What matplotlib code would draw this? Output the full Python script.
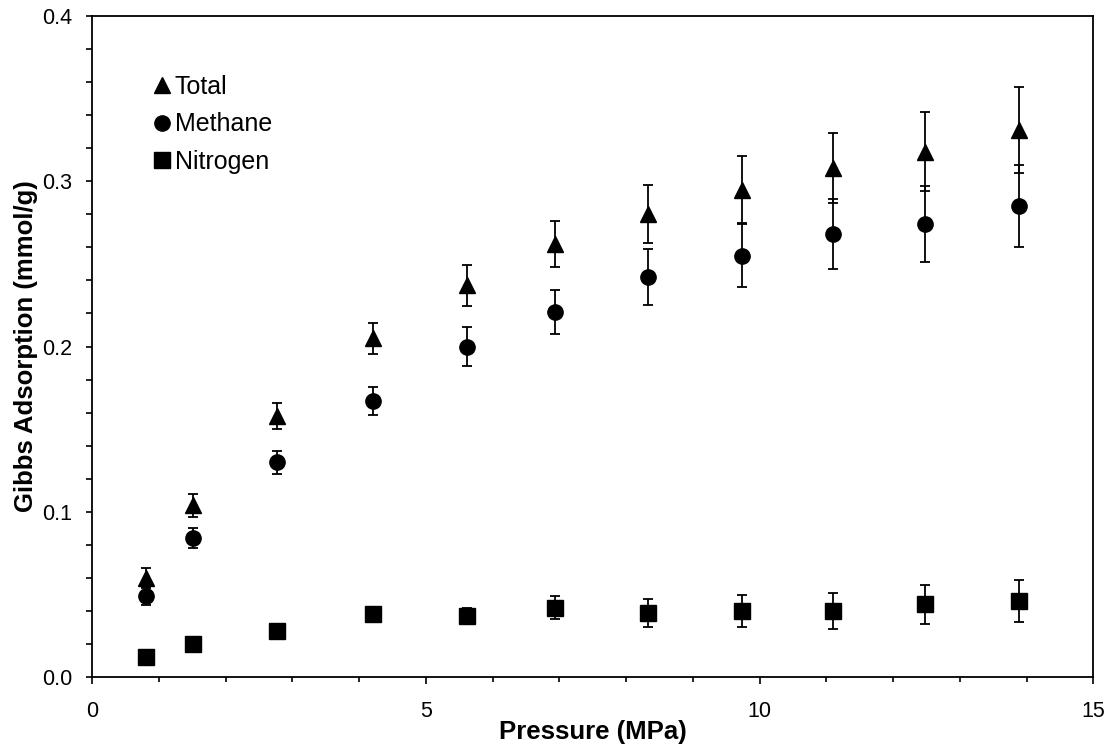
import matplotlib
matplotlib.use("Agg")
import matplotlib.pyplot as plt
from matplotlib.ticker import MultipleLocator, FormatStrFormatter

plt.rcParams['font.family'] = ['Liberation Sans', 'DejaVu Sans']

# pressure points (MPa)
pressure = [0.81, 1.51, 2.77, 4.21, 5.61, 6.94, 8.33, 9.73, 11.10, 12.48, 13.88]

# Gibbs adsorption (mmol/g) and error
total = [0.060, 0.104, 0.158, 0.205, 0.237, 0.262, 0.280, 0.295, 0.308, 0.318, 0.331]
total_err = [0.006, 0.007, 0.008, 0.0095, 0.0125, 0.014, 0.0175, 0.020, 0.021, 0.024, 0.026]

methane = [0.049, 0.084, 0.130, 0.167, 0.200, 0.221, 0.242, 0.255, 0.268, 0.274, 0.285]
methane_err = [0.0055, 0.006, 0.007, 0.0085, 0.012, 0.0135, 0.017, 0.019, 0.021, 0.023, 0.025]

nitrogen = [0.012, 0.020, 0.028, 0.038, 0.037, 0.042, 0.039, 0.040, 0.040, 0.044, 0.046]
nitrogen_err = [0.001, 0.001, 0.001, 0.002, 0.005, 0.007, 0.0085, 0.0095, 0.0108, 0.0117, 0.013]

fig = plt.figure(figsize=(11.13, 7.49), dpi=100)
ax = fig.add_axes([0.0827, 0.0961, 0.8996, 0.8825])

ebkw = dict(ecolor='black', elinewidth=1.3, capsize=3.8, capthick=1.3,
            linestyle='none', color='black', markersize=11)

ax.errorbar(pressure, nitrogen, yerr=nitrogen_err, marker='s', label='Nitrogen', **ebkw)
ax.errorbar(pressure, methane, yerr=methane_err, marker='o', label='Methane', **ebkw)
ax.errorbar(pressure, total, yerr=total_err, marker='^', label='Total', **ebkw)

ax.set_xlim(0, 15)
ax.set_ylim(0, 0.4)
ax.xaxis.set_major_locator(MultipleLocator(5))
ax.xaxis.set_minor_locator(MultipleLocator(1))
ax.yaxis.set_major_locator(MultipleLocator(0.1))
ax.yaxis.set_minor_locator(MultipleLocator(0.02))
ax.yaxis.set_major_formatter(FormatStrFormatter('%.1f'))
ax.tick_params(which='both', direction='out', top=False, right=False,
               labelsize=15.5, width=1.2)
ax.tick_params(axis='x', which='major', length=5, pad=12)
ax.tick_params(axis='x', which='minor', length=3.5)
ax.tick_params(axis='y', which='both', length=4.5)
ax.tick_params(axis='y', which='major', pad=9.5)
for s in ax.spines.values():
    s.set_linewidth(1.3)

ax.set_xlabel('Pressure (MPa)', fontsize=18.5, fontweight='bold', labelpad=-1)
ax.set_ylabel('Gibbs Adsorption (mmol/g)', fontsize=18.5, fontweight='bold', labelpad=3)

handles, labels = ax.get_legend_handles_labels()
handles = [h[0] for h in handles[::-1]]
labels = labels[::-1]
ax.legend(handles, labels, loc='upper left', bbox_to_anchor=(0.04, 0.945),
          frameon=False, fontsize=18, handlelength=0.6, handletextpad=0.2,
          labelspacing=0.54, markerscale=1.0)

fig.savefig('out.png', dpi=100)
